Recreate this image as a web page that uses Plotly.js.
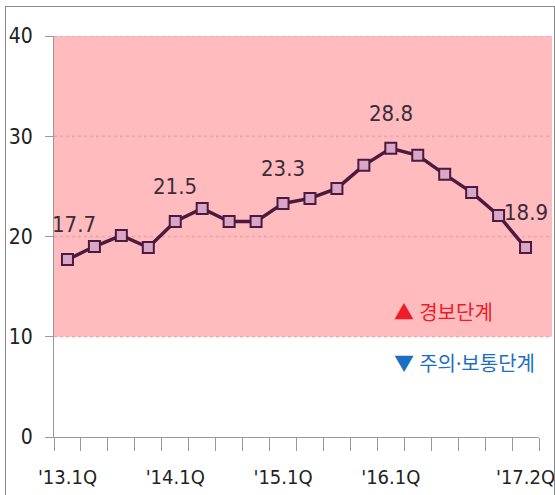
<!DOCTYPE html>
<html>
<head>
<meta charset="utf-8">
<script src="https://cdn.plot.ly/plotly-3.0.1.min.js"></script>
<style>
  html, body { margin: 0; padding: 0; background: #fff; }
  #chart { width: 555px; height: 495px; position: relative; }
  #frame { position: absolute; left: 5px; top: 6px; width: 548px; height: 600px;
           border: 1px solid #8a8a8a; border-bottom: none; pointer-events: none; }
</style>
</head>
<body>
<div id="chart"></div>
<div id="frame"></div>
<script>
// ---- data ----
const quarters = ["'13.1Q","'13.2Q","'13.3Q","'13.4Q",
                  "'14.1Q","'14.2Q","'14.3Q","'14.4Q",
                  "'15.1Q","'15.2Q","'15.3Q","'15.4Q",
                  "'16.1Q","'16.2Q","'16.3Q","'16.4Q",
                  "'17.1Q","'17.2Q"];
const values = [17.7, 19.0, 20.1, 18.9, 21.5, 22.8, 21.5, 21.5, 23.3,
                23.8, 24.8, 27.1, 28.8, 28.1, 26.2, 24.4, 22.1, 18.9];
const tickLabels = ["'13.1Q","","","","'14.1Q","","","","'15.1Q",
                    "","","","'16.1Q","","","","","'17.2Q"];
const labeledIdx = [0, 4, 8, 12, 17];
const yTicks = [0, 10, 20, 30, 40];
const gridVals = [10, 20, 30, 40];
const warnBand = [10, 40];
const legendTexts = ["▲ 경보단계", "▼ 주의·보통단계"];
const legendY = [12.4, 7.3];

const narrow = '"Liberation Sans Narrow", "Arial Narrow", "DejaVu Sans Condensed", sans-serif';

const shapes = [{
  type: 'rect', xref: 'paper', yref: 'y', x0: 0, x1: 1.027,
  y0: warnBand[0], y1: warnBand[1], fillcolor: '#FFBBBE', line: {width: 0}, layer: 'below'
}];
gridVals.forEach(v => shapes.push({
  type: 'line', xref: 'paper', yref: 'y', x0: 0, x1: 1.027, y0: v, y1: v,
  line: {color: 'rgba(200,150,160,0.55)', width: 1.5, dash: 'dot'}, layer: 'below'
}));

const annotations = labeledIdx.map((i, k) => ({
  x: quarters[i], y: values[i], xref: 'x', yref: 'y',
  text: values[i].toFixed(1), showarrow: false,
  yanchor: 'middle', yshift: 35, xshift: k === 0 ? 7 : 0,
  font: {family: narrow, size: 22, color: '#3a2c3a'}
}));
const legendColors = ['#EE1C25', '#1B6FC2'];
legendTexts.forEach((t, k) => annotations.push({
  xref: 'paper', yref: 'y', x: 0.697, y: legendY[k], xanchor: 'left', yanchor: 'middle',
  text: t, showarrow: false,
  font: {family: '"Noto Sans", "Noto Sans CJK KR", sans-serif', size: 20, color: legendColors[k]}
}));

const trace = {
  x: quarters, y: values, type: 'scatter', mode: 'lines+markers',
  line: {color: '#4A1B3F', width: 3.5},
  marker: {symbol: 'square', size: 11, color: '#D9A6C6', line: {color: '#4A1B3F', width: 2}},
  cliponaxis: false, hoverinfo: 'skip'
};

const layout = {
  width: 555, height: 495,
  margin: {l: 54, r: 16, t: 36, b: 58},
  paper_bgcolor: '#ffffff', plot_bgcolor: 'rgba(0,0,0,0)',
  showlegend: false,
  xaxis: {
    type: 'category', tickmode: 'array', tickvals: quarters, ticktext: tickLabels,
    tickson: 'boundaries', ticks: 'outside', ticklen: 13, tickcolor: '#9a9a9a', tickwidth: 1,
    tickangle: 0, ticklabelstandoff: 22,
    showline: true, linecolor: '#9a9a9a', linewidth: 1, showgrid: false, zeroline: false,
    range: [-0.5, 17.5], fixedrange: true,
    tickfont: {family: narrow, size: 20, color: '#222'}
  },
  yaxis: {
    range: [0, 40], tickmode: 'array', tickvals: yTicks,
    ticks: 'outside', ticklen: 8, tickcolor: '#9a9a9a', tickwidth: 1,
    ticklabelstandoff: 8,
    showline: true, linecolor: '#9a9a9a', linewidth: 1, showgrid: false, zeroline: false,
    fixedrange: true,
    tickfont: {family: narrow, size: 21, color: '#222'}
  },
  shapes: shapes,
  annotations: annotations
};

Plotly.newPlot('chart', [trace], layout, {staticPlot: true, displayModeBar: false});
</script>
</body>
</html>
